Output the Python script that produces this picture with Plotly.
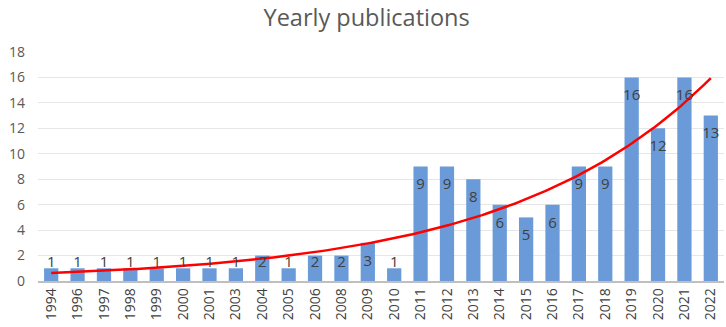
import numpy as np
import plotly.graph_objects as go

years = ["1994", "1996", "1997", "1998", "1999", "2000", "2001", "2003", "2004", "2005",
         "2006", "2008", "2009", "2010", "2011", "2012", "2013", "2014", "2015", "2016",
         "2017", "2018", "2019", "2020", "2021", "2022"]
counts = [1, 1, 1, 1, 1, 1, 1, 1, 2, 1,
          2, 2, 3, 1, 9, 9, 8, 6, 5, 6,
          9, 9, 16, 12, 16, 13]
y_ticks = [0, 2, 4, 6, 8, 10, 12, 14, 16, 18]
title_text = "Yearly publications"

vals = np.array(counts, dtype=float)
xpos = np.arange(1, len(years) + 1)

# exponential trendline fitted to the data (as in Excel)
b, lna = np.polyfit(xpos, np.log(vals), 1)
xt = np.linspace(xpos[0], xpos[-1], 200)
yt = np.exp(lna) * np.exp(b * xt)

# data label positions: inside end, not below the baseline region
label_y = np.maximum(vals - 1.5, 1.4)

fig = go.Figure()
fig.add_trace(go.Bar(x=xpos, y=vals, marker=dict(color="#6A9BD8", line=dict(width=0)),
                     width=0.54, hoverinfo="skip"))
fig.add_trace(go.Scatter(x=xt, y=yt, mode="lines", line=dict(color="#FF0000", width=2.5),
                         hoverinfo="skip"))
fig.add_trace(go.Scatter(x=xpos, y=label_y, mode="text", text=[str(c) for c in counts],
                         textfont=dict(family="Open Sans", size=15, color="#404040"),
                         textposition="middle center", hoverinfo="skip"))

fig.update_layout(
    width=726, height=327,
    margin=dict(l=38, r=2, t=52, b=46, autoexpand=False),
    paper_bgcolor="white", plot_bgcolor="white",
    showlegend=False,
    title=dict(text=title_text, x=0.505, xanchor="center", y=0.946, yanchor="middle",
               font=dict(family="Open Sans", size=23.5, color="#595959")),
    xaxis=dict(range=[0.5, len(years) + 0.5], tickmode="array", tickvals=xpos, ticktext=years,
               tickangle=-90, showgrid=False, zeroline=False, showline=True,
               linecolor="#BFBFBF", linewidth=1.5, ticks="", automargin=False,
               tickfont=dict(family="Open Sans", size=14, color="#404040")),
    yaxis=dict(range=[0, 18], tickmode="array", tickvals=y_ticks, showgrid=True,
               gridcolor="#E6E6E6", gridwidth=1, zeroline=False, showline=False, ticks="",
               ticklabelstandoff=12, automargin=False,
               tickfont=dict(family="Open Sans", size=14, color="#595959")),
)

fig.write_html("out.html", config={"displayModeBar": False},
               post_script="document.body.style.margin='0px';")
